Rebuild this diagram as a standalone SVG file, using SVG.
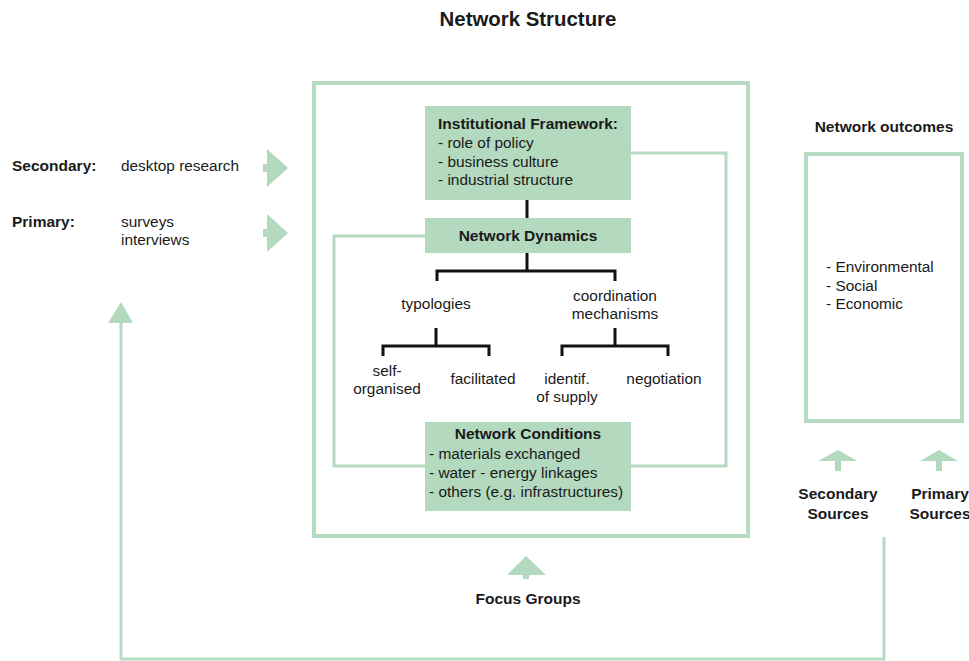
<svg xmlns="http://www.w3.org/2000/svg" width="969" height="661" viewBox="0 0 969 661">
<defs>
<style>
text{font-family:"Liberation Sans",Arial,Helvetica,sans-serif;fill:#1a1a1a;}
.b{font-weight:bold;font-size:15.5px;}
.r{font-size:15.4px;}
.t{font-weight:bold;font-size:20.4px;}
.m{text-anchor:middle;}
.box{fill:#b3d9be;}
.frame{fill:none;stroke:#b5dcc1;stroke-width:4;}
.gl{fill:none;stroke:#b5dcc1;stroke-width:3;}
.bl{fill:none;stroke:#111;stroke-width:3;}
.arr{fill:#b3d9be;}
</style>
</defs>
<rect width="969" height="661" fill="#fff"/>
<text class="t m" x="528" y="26">Network Structure</text>

<g id="network-structure">
<rect class="frame" x="314" y="83" width="434" height="453"/>
</g>

<g id="connectors">
<polyline class="gl" points="631,153 726,153 726,466 631,466"/>
<polyline class="gl" points="425,236 334,236 334,466 425,466"/>
<line class="bl" x1="527" y1="200" x2="527" y2="218"/>
<polyline class="bl" points="527,253 527,271"/>
<polyline class="bl" points="437,281 437,271 615,271 615,281"/>
<line class="bl" x1="436" y1="328" x2="436" y2="346"/>
<polyline class="bl" points="383,356 383,346 489,346 489,356"/>
<line class="bl" x1="615" y1="328" x2="615" y2="346"/>
<polyline class="bl" points="562,356 562,346 668,346 668,356"/>
<polyline class="gl" points="121,322 121,659 884,659 884,537"/>
</g>

<g id="institutional-framework">
<rect class="box" x="425" y="106" width="206" height="94"/>
<text class="b" x="438" y="129">Institutional Framework:</text>
<text class="r" x="438" y="148">- role of policy</text>
<text class="r" x="438" y="166.5">- business culture</text>
<text class="r" x="438" y="185">- industrial structure</text>
</g>

<g id="network-dynamics">
<rect class="box" x="425" y="218" width="206" height="35"/>
<text class="b m" x="528" y="241">Network Dynamics</text>
</g>

<g id="typologies"><text class="r m" x="436" y="309">typologies</text></g>
<g id="coordination"><text class="r m" x="615" y="301">coordination</text><text class="r m" x="615" y="319">mechanisms</text></g>
<g id="self-organised"><text class="r m" x="387" y="376">self-</text><text class="r m" x="387" y="394">organised</text></g>
<g id="facilitated"><text class="r m" x="483" y="384">facilitated</text></g>
<g id="identif"><text class="r m" x="567" y="384">identif.</text><text class="r m" x="567" y="402">of supply</text></g>
<g id="negotiation"><text class="r m" x="664" y="384">negotiation</text></g>

<g id="network-conditions">
<rect class="box" x="425" y="422" width="206" height="89"/>
<text class="b m" x="528" y="439">Network Conditions</text>
<text class="r" x="429" y="459">- materials exchanged</text>
<text class="r" x="429" y="478">- water - energy linkages</text>
<text class="r" x="429" y="497">- others (e.g. infrastructures)</text>
</g>

<g id="secondary">
<text class="b" x="12" y="171">Secondary:</text>
<text class="r" x="121" y="171">desktop research</text>
<rect class="arr" x="263" y="164" width="5" height="8"/>
<polygon class="arr" points="267,149 288,168 267,187"/>
</g>

<g id="primary">
<text class="b" x="12" y="227">Primary:</text>
<text class="r" x="121" y="227">surveys</text>
<text class="r" x="121" y="245">interviews</text>
<rect class="arr" x="263" y="229" width="5" height="8"/>
<polygon class="arr" points="267,214 288,233 267,252"/>
</g>

<g id="feedback-arrow">
<polygon class="arr" points="121,302 133,323 108,323"/>
</g>

<g id="network-outcomes">
<text class="b m" x="884" y="132">Network outcomes</text>
<rect class="frame" x="806" y="154" width="156" height="267"/>
<text class="r" x="826" y="272">- Environmental</text>
<text class="r" x="826" y="290.5">- Social</text>
<text class="r" x="826" y="309">- Economic</text>
</g>

<g id="secondary-sources">
<polygon class="arr" points="838,450 857,461 818,461"/>
<rect class="arr" x="835" y="460" width="6" height="11"/>
<text class="b m" x="838" y="499">Secondary</text>
<text class="b m" x="838" y="519">Sources</text>
</g>

<g id="primary-sources">
<polygon class="arr" points="939,450 958,461 920,461"/>
<rect class="arr" x="936" y="460" width="6" height="11"/>
<text class="b m" x="940" y="499">Primary</text>
<text class="b m" x="940" y="519">Sources</text>
</g>

<g id="focus-groups">
<polygon class="arr" points="526,556 546,575 507,575"/>
<rect class="arr" x="523" y="574" width="6" height="5"/>
<text class="b m" x="528" y="604">Focus Groups</text>
</g>
</svg>
